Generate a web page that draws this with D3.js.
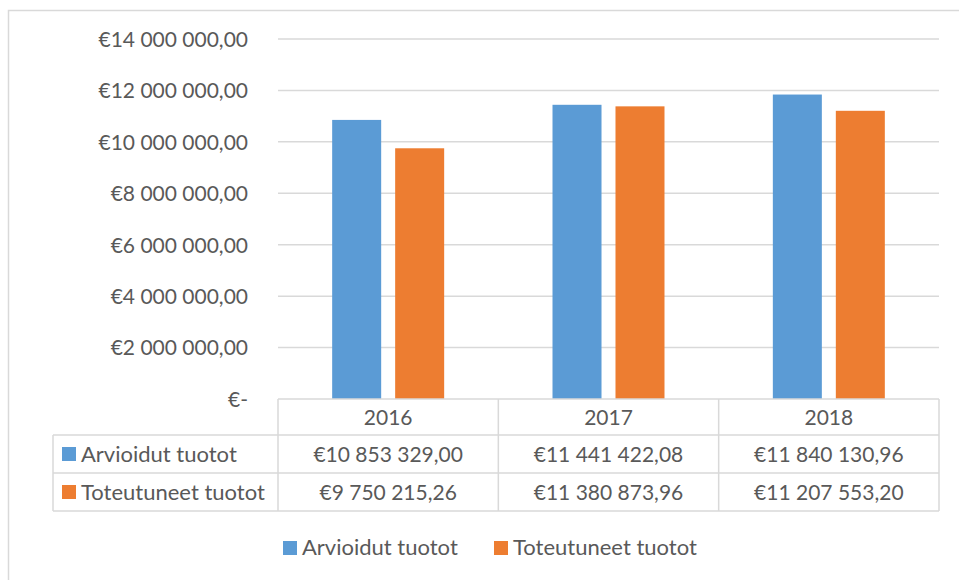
<!DOCTYPE html>
<html>
<head lang="fi">
  <meta charset="UTF-8">
  <title>Arvioidut ja toteutuneet tuotot</title>
</head>
<style>
  body { margin: 0; background: #fff; }
  #chart text { font-family: Lato, "Open Sans", sans-serif; fill: #595959; }
  #chart .grid line { stroke: #d9d9d9; stroke-width: 1.5; }
  #chart .tbl line { stroke: #d9d9d9; stroke-width: 1.5; }
</style>
<body>

<svg id="chart" width="959" height="580"></svg>

<script src="https://cdn.jsdelivr.net/npm/d3@7"></script>
<script>
  // Data
  var years = ['2016', '2017', '2018'];
  var seriesNames = ['Arvioidut tuotot', 'Toteutuneet tuotot'];
  var arvioidut = [10853329.00, 11441422.08, 11840130.96];
  var toteutuneet = [9750215.26, 11380873.96, 11207553.20];
  var tickValues = [0, 2000000, 4000000, 6000000, 8000000, 10000000, 12000000, 14000000];
  var colors = ['#5b9bd5', '#ed7d31'];

  var series = [arvioidut, toteutuneet];
  var fontSize = 21;
  var nameSize = 22;

  var fi = d3.formatLocale({ decimal: ',', thousands: '\u00a0', grouping: [3], currency: ['€', ''] });
  var money = fi.format('$,.2f');
  function tickText(d) { return d === 0 ? '€-' : money(d).replace(/\u00a0/g, ' '); }
  function cellText(d) { return money(d).replace(/\u00a0/g, ' '); }

  var svg = d3.select('#chart');

  // outer chart frame
  svg.append('rect')
    .attr('x', 8.5).attr('y', 10.5).attr('width', 1000).attr('height', 700)
    .attr('fill', 'none').attr('stroke', '#d9d9d9').attr('stroke-width', 1.5);

  var plotLeft = 278, plotRight = 939, plotTop = 39, plotBottom = 399;

  var x = d3.scaleBand().domain(years).range([plotLeft, plotRight]).paddingInner(0).paddingOuter(0);
  var x1 = d3.scaleBand().domain([0, 1]).range([0, x.bandwidth()]).paddingInner(0.222).paddingOuter(0.86);
  var y = d3.scaleLinear().domain([0, 14000000]).range([plotBottom, plotTop]);

  // gridlines
  svg.append('g').attr('class', 'grid')
    .selectAll('line')
    .data(tickValues.filter(function (d) { return d > 0; }))
    .enter().append('line')
    .attr('x1', plotLeft).attr('x2', plotRight)
    .attr('y1', function (d) { return y(d); })
    .attr('y2', function (d) { return y(d); });

  // y axis labels
  var yAxis = d3.axisLeft(y).tickValues(tickValues).tickFormat(tickText).tickSize(0).tickPadding(30);
  var ya = svg.append('g').attr('transform', 'translate(' + plotLeft + ',0)').call(yAxis);
  ya.select('.domain').remove();
  ya.selectAll('text').attr('font-size', fontSize).attr('font-family', null).attr('dy', '0.35em');

  // bars
  var groups = svg.append('g').selectAll('g')
    .data(years)
    .enter().append('g')
    .attr('transform', function (d) { return 'translate(' + x(d) + ',0)'; });

  groups.selectAll('rect')
    .data(function (d, i) { return series.map(function (s, k) { return { k: k, v: s[i] }; }); })
    .enter().append('rect')
    .attr('x', function (d) { return x1(d.k); })
    .attr('width', x1.bandwidth())
    .attr('y', function (d) { return y(d.v); })
    .attr('height', function (d) { return plotBottom - y(d.v); })
    .attr('fill', function (d) { return colors[d.k]; });

  // data table
  var tblLeft = 53;
  var rowY = [399, 435, 473, 511];
  var tbl = svg.append('g').attr('class', 'tbl');

  tbl.append('line').attr('x1', plotLeft).attr('x2', plotRight).attr('y1', rowY[0]).attr('y2', rowY[0]);
  rowY.slice(1).forEach(function (ry) {
    tbl.append('line').attr('x1', tblLeft).attr('x2', plotRight).attr('y1', ry).attr('y2', ry);
  });
  tbl.append('line').attr('x1', tblLeft).attr('x2', tblLeft).attr('y1', rowY[1]).attr('y2', rowY[3]);
  years.concat(['end']).forEach(function (d, i) {
    var cx = i < years.length ? x(d) : plotRight;
    tbl.append('line').attr('x1', cx).attr('x2', cx).attr('y1', rowY[0]).attr('y2', rowY[3]);
  });

  // header
  svg.append('g').selectAll('text')
    .data(years)
    .enter().append('text')
    .attr('x', function (d) { return x(d) + x.bandwidth() / 2; })
    .attr('y', 425)
    .attr('text-anchor', 'middle')
    .attr('font-size', fontSize)
    .text(function (d) { return d; });

  // rows
  series.forEach(function (s, k) {
    var baseY = k === 0 ? 462 : 500;
    svg.append('rect')
      .attr('x', 62).attr('y', baseY - 15).attr('width', 14).attr('height', 14)
      .attr('fill', colors[k]);
    svg.append('text')
      .attr('x', 81).attr('y', baseY).attr('font-size', nameSize)
      .text(seriesNames[k]);
    svg.append('g').selectAll('text')
      .data(s)
      .enter().append('text')
      .attr('x', function (d, i) { return x(years[i]) + x.bandwidth() / 2; })
      .attr('y', baseY)
      .attr('text-anchor', 'middle')
      .attr('font-size', fontSize)
      .text(cellText);
  });

  // legend
  var legendX = [283, 494];
  var legend = svg.append('g').selectAll('g')
    .data(seriesNames)
    .enter().append('g')
    .attr('transform', function (d, i) { return 'translate(' + legendX[i] + ',541)'; });
  legend.append('rect')
    .attr('width', 14).attr('height', 14)
    .attr('fill', function (d, i) { return colors[i]; });
  legend.append('text')
    .attr('x', 19).attr('y', 14).attr('font-size', nameSize)
    .text(function (d) { return d; });
</script>
</body>
</html>
